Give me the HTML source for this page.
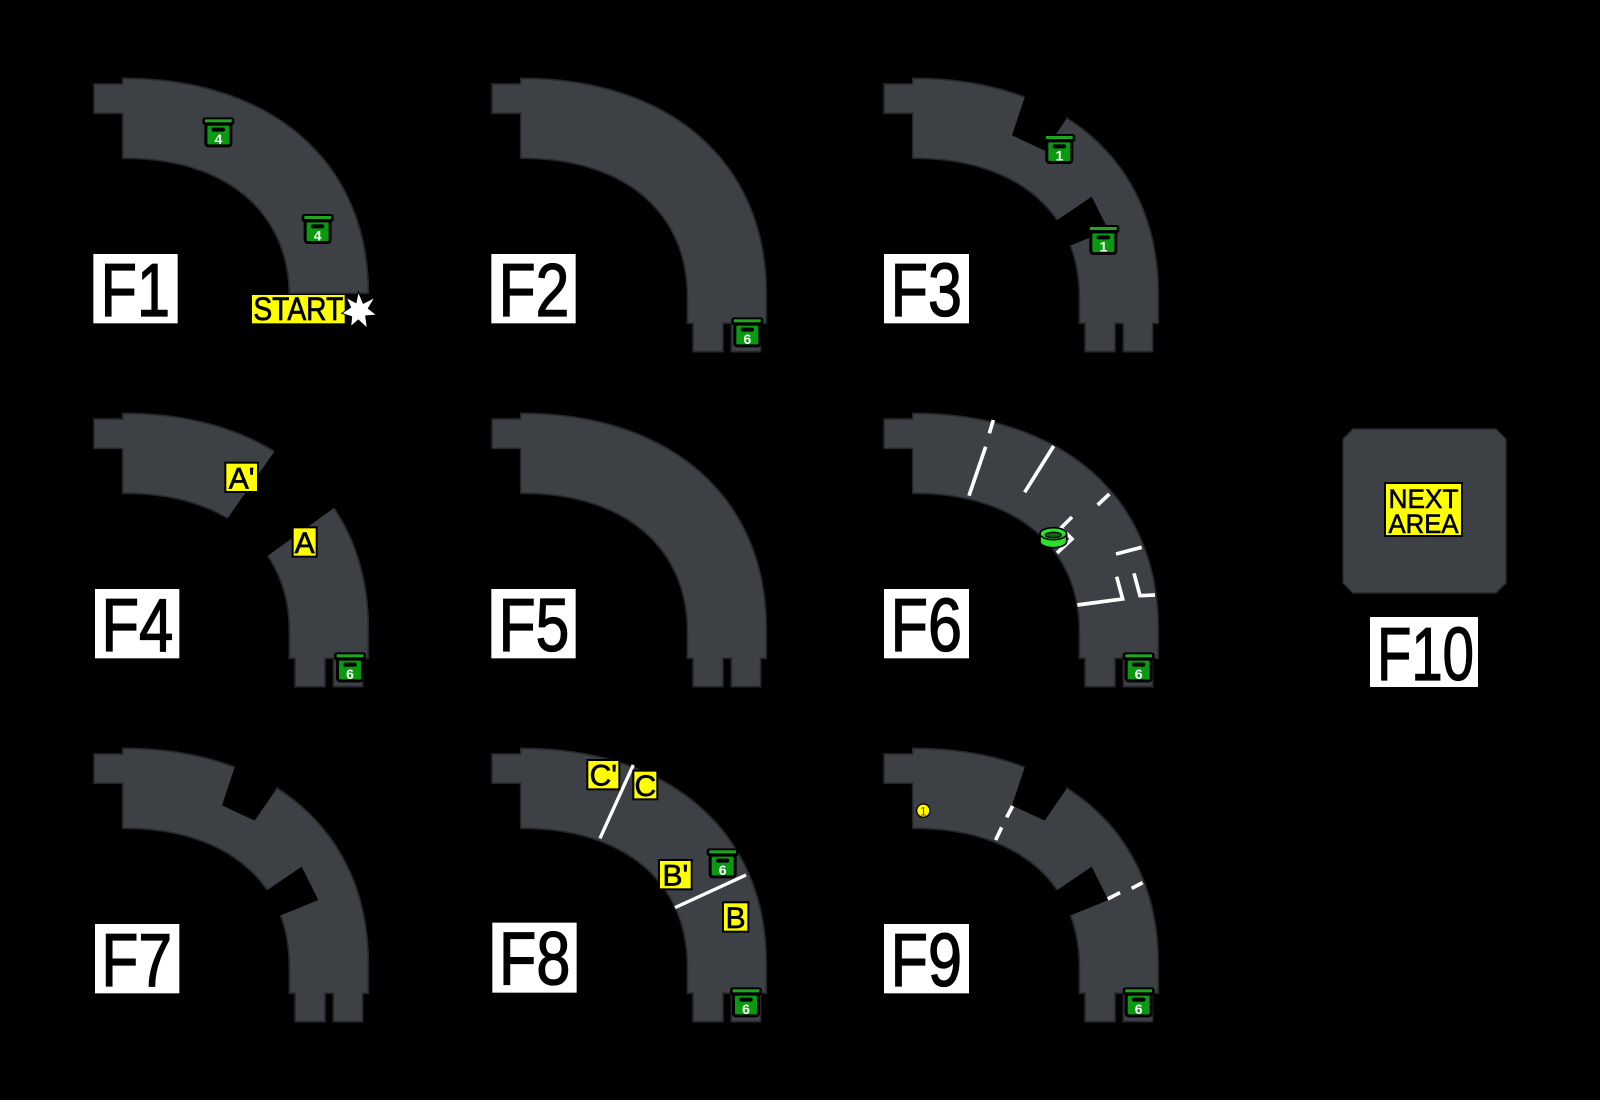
<!DOCTYPE html>
<html><head><meta charset="utf-8"><style>
html,body{margin:0;padding:0;background:#000;width:1600px;height:1100px;overflow:hidden}
svg{display:block}
text{font-family:"Liberation Sans",sans-serif}
.fl{stroke:#000;stroke-width:4}
</style></head><body>
<svg width="1600" height="1100" viewBox="0 0 1600 1100" xmlns="http://www.w3.org/2000/svg">
<defs>
<path id="bodyP" d="M42,72 L128,72 L128,55 C570,54 865,300 865,700 L865,790 L848,790 L848,875 L760,875 L760,790 L735,790 L735,875 L645,875 L645,790 L628,790 L628,700 C624,465 450,294 128,295 L128,160 L42,160 Z" fill="#3d4045" stroke="#25272b" stroke-width="5"/>
<path id="bodyF1" d="M42,72 L128,72 L128,55 C570,54 865,300 865,700 L628,700 C624,465 450,294 128,295 L128,160 L42,160 Z" fill="#3d4045" stroke="#25272b" stroke-width="5"/>
<g id="notch1"><polygon points="468,100 426,226 524,272 590,176 540,88" fill="#000"/></g>
<g id="notch2"><polygon points="545,485 565,478 665,410 715,510 605,555 585,560" fill="#000"/></g>
<g id="chest">
<rect x="0" y="0" width="96" height="24" rx="8" fill="#000"/>
<rect x="8" y="6" width="80" height="9" fill="#1fa81f"/>
<rect x="6" y="16" width="84" height="74" rx="12" fill="#000"/>
<rect x="15" y="25" width="66" height="56" rx="3" fill="#0a9a12"/>
<rect x="28" y="31" width="40" height="12" rx="6" fill="#000"/>
</g>
</defs>

<g transform="translate(80,60) scale(0.33333)">
<use href="#bodyF1"/>
<use href="#chest" x="367" y="172"/><text x="415" y="252" font-size="42" font-weight="bold" fill="#fff" text-anchor="middle">4</text>
<use href="#chest" x="665" y="462"/><text x="713" y="542" font-size="42" font-weight="bold" fill="#fff" text-anchor="middle">4</text>
<rect x="40" y="582" width="253" height="208" fill="#fff"/>
<text class="fl" x="62" y="768" font-size="225" textLength="208" lengthAdjust="spacingAndGlyphs" fill="#000">F1</text>
<rect x="516" y="705" width="278" height="85" fill="#ff0"/>
<text x="520" y="780" font-size="96" stroke="#000" stroke-width="2" textLength="270" lengthAdjust="spacingAndGlyphs" fill="#000">START</text>
<polygon fill="#fff" points="835,695 850,730 885,712 865,745 890,765 857,768 862,805 835,780 812,800 815,770 785,760 812,742 798,712 828,728" stroke="#000" stroke-width="3"/>
</g>

<g transform="translate(478,60) scale(0.33333)">
<use href="#bodyP"/>
<use href="#chest" x="760" y="772"/><text x="808" y="852" font-size="42" font-weight="bold" fill="#fff" text-anchor="middle">6</text>
<rect x="40" y="582" width="253" height="208" fill="#fff"/>
<text class="fl" x="62" y="768" font-size="225" textLength="212" lengthAdjust="spacingAndGlyphs" fill="#000">F2</text>
</g>

<g transform="translate(870,60) scale(0.33333)">
<use href="#bodyP"/>
<use href="#notch1"/><use href="#notch2"/>
<use href="#chest" x="520" y="222"/><text x="568" y="302" font-size="42" font-weight="bold" fill="#fff" text-anchor="middle">1</text>
<use href="#chest" x="652" y="495"/><text x="700" y="575" font-size="42" font-weight="bold" fill="#fff" text-anchor="middle">1</text>
<rect x="42" y="582" width="255" height="208" fill="#fff"/>
<text class="fl" x="62" y="768" font-size="225" textLength="214" lengthAdjust="spacingAndGlyphs" fill="#000">F3</text>
</g>

<g transform="translate(80,395) scale(0.33333)">
<use href="#bodyP"/>
<polygon points="624,111 435,381 546,495 795,315" fill="#000"/>
<rect x="436" y="203" width="98" height="88" fill="#ff0" stroke="#000" stroke-width="6"/>
<text x="485" y="280" font-size="90" stroke="#000" stroke-width="2" text-anchor="middle" fill="#000">A'</text>
<rect x="638" y="397" width="72" height="88" fill="#ff0" stroke="#000" stroke-width="6"/>
<text x="674" y="474" font-size="90" stroke="#000" stroke-width="2" text-anchor="middle" fill="#000">A</text>
<use href="#chest" x="762" y="772"/><text x="810" y="852" font-size="42" font-weight="bold" fill="#fff" text-anchor="middle">6</text>
<rect x="45" y="582" width="253" height="208" fill="#fff"/>
<text class="fl" x="64" y="768" font-size="225" textLength="216" lengthAdjust="spacingAndGlyphs" fill="#000">F4</text>
</g>

<g transform="translate(478,395) scale(0.33333)">
<use href="#bodyP"/>
<rect x="40" y="582" width="253" height="208" fill="#fff"/>
<text class="fl" x="62" y="768" font-size="225" textLength="212" lengthAdjust="spacingAndGlyphs" fill="#000">F5</text>
</g>

<g transform="translate(870,395) scale(0.33333)">
<use href="#bodyP"/>
<g stroke="#fff" stroke-width="11" fill="none">
<line x1="370" y1="75" x2="358" y2="115"/>
<line x1="347" y1="155" x2="297" y2="302"/>
<line x1="551" y1="153" x2="464" y2="292"/>
<line x1="718" y1="297" x2="683" y2="330"/>
<polyline points="606,366 573,399 606,432 561,474"/>
<line x1="815" y1="457" x2="738" y2="477"/>
<polyline points="740,545 758,612 622,630"/>
<polyline points="792,535 810,602 855,600"/>
</g>
<path d="M510,418 L510,440 A40,18 0 0 0 590,440 L590,418 Z" fill="#2ae02a" stroke="#000" stroke-width="5"/>
<ellipse cx="550" cy="416" rx="40" ry="18" fill="#2ae02a" stroke="#000" stroke-width="5"/>
<ellipse cx="550" cy="420" rx="24" ry="8" fill="#0a6a0a" stroke="#000" stroke-width="4"/>
<use href="#chest" x="758" y="772"/><text x="806" y="852" font-size="42" font-weight="bold" fill="#fff" text-anchor="middle">6</text>
<rect x="42" y="582" width="255" height="208" fill="#fff"/>
<text class="fl" x="62" y="768" font-size="225" textLength="214" lengthAdjust="spacingAndGlyphs" fill="#000">F6</text>
</g>

<polygon points="1353,429 1496,429 1506,439 1506,583 1496,593 1353,593 1343,583 1343,439" fill="#3d4045" stroke="#25272b" stroke-width="1.5"/>
<rect x="1385" y="483" width="77" height="53" fill="#ff0" stroke="#000" stroke-width="2"/>
<text x="1423.5" y="508" font-size="27" stroke="#000" stroke-width="0.6" text-anchor="middle" textLength="70" lengthAdjust="spacingAndGlyphs" fill="#000">NEXT</text>
<text x="1423.5" y="533" font-size="27" stroke="#000" stroke-width="0.6" text-anchor="middle" textLength="70" lengthAdjust="spacingAndGlyphs" fill="#000">AREA</text>
<rect x="1370" y="617" width="108" height="70" fill="#fff"/>
<text x="1377" y="680" font-size="75" stroke="#000" stroke-width="1.3" textLength="97" lengthAdjust="spacingAndGlyphs" fill="#000">F10</text>

<g transform="translate(80,730) scale(0.33333)">
<use href="#bodyP"/>
<use href="#notch1"/><use href="#notch2"/>
<rect x="45" y="582" width="253" height="208" fill="#fff"/>
<text class="fl" x="64" y="768" font-size="225" textLength="212" lengthAdjust="spacingAndGlyphs" fill="#000">F7</text>
</g>

<g transform="translate(478,730) scale(0.33333)">
<use href="#bodyP"/>
</g>
<g transform="translate(480,730) scale(0.33333)">
<g stroke="#fff" stroke-width="10">
<line x1="460" y1="105" x2="360" y2="325"/>
<line x1="798" y1="435" x2="585" y2="533"/>
</g>
<rect x="322" y="90" width="96" height="88" fill="#ff0" stroke="#000" stroke-width="6"/>
<text x="370" y="166" font-size="90" stroke="#000" stroke-width="2" text-anchor="middle" fill="#000">C'</text>
<rect x="460" y="122" width="72" height="86" fill="#ff0" stroke="#000" stroke-width="6"/>
<text x="496" y="198" font-size="90" stroke="#000" stroke-width="2" text-anchor="middle" fill="#000">C</text>
<rect x="537" y="390" width="98" height="88" fill="#ff0" stroke="#000" stroke-width="6"/>
<text x="586" y="466" font-size="90" stroke="#000" stroke-width="2" text-anchor="middle" fill="#000">B'</text>
<rect x="729" y="517" width="76" height="88" fill="#ff0" stroke="#000" stroke-width="6"/>
<text x="767" y="594" font-size="90" stroke="#000" stroke-width="2" text-anchor="middle" fill="#000">B</text>
<use href="#chest" x="680" y="355"/><text x="728" y="435" font-size="42" font-weight="bold" fill="#fff" text-anchor="middle">6</text>
<use href="#chest" x="750" y="772"/><text x="798" y="852" font-size="42" font-weight="bold" fill="#fff" text-anchor="middle">6</text>
<rect x="37" y="578" width="253" height="210" fill="#fff"/>
<text class="fl" x="57" y="764" font-size="225" textLength="214" lengthAdjust="spacingAndGlyphs" fill="#000">F8</text>
</g>

<g transform="translate(870,730) scale(0.33333)">
<use href="#bodyP"/>
<use href="#notch1"/><use href="#notch2"/>
<g stroke="#fff" stroke-width="11">
<line x1="428" y1="228" x2="410" y2="262"/>
<line x1="395" y1="292" x2="377" y2="330"/>
<line x1="818" y1="458" x2="785" y2="475"/>
<line x1="750" y1="488" x2="713" y2="507"/>
</g>
<circle cx="160" cy="242" r="20" fill="#ff0" stroke="#000" stroke-width="4"/>
<text x="160" y="256" font-size="36" text-anchor="middle" fill="#e01010">1</text>
<use href="#chest" x="758" y="772"/><text x="806" y="852" font-size="42" font-weight="bold" fill="#fff" text-anchor="middle">6</text>
<rect x="42" y="582" width="255" height="208" fill="#fff"/>
<text class="fl" x="62" y="768" font-size="225" textLength="214" lengthAdjust="spacingAndGlyphs" fill="#000">F9</text>
</g>
</svg>
</body></html>
